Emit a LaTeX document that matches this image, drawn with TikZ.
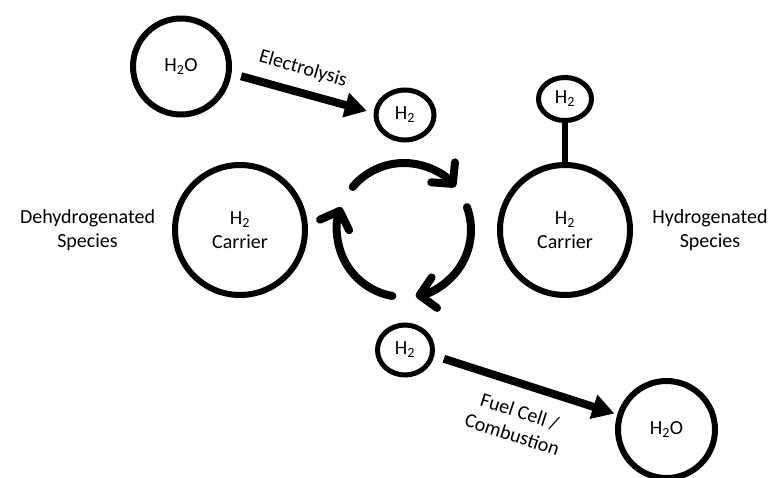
\documentclass[tikz,border=0pt]{standalone}
\usepackage{fontspec}
\setmainfont{Carlito}
\usetikzlibrary{arrows.meta,shapes.geometric,calc}

\tikzset{
  every node/.style={font=\fontsize{20}{24}\selectfont},
  ring/.style={draw, line width=6pt, circle, inner sep=0pt, align=center},
  pill/.style={draw, line width=5pt, ellipse, inner sep=0pt},
  flow/.style={line width=8pt, -{Triangle[length=22pt,width=24pt]}},
  cyc/.style={line width=8pt, line cap=round, -{Straight Barb[round,length=15pt,width=31pt]}},
  stem/.style={line width=6pt},
  lbl/.style={align=center, inner sep=0pt}
}

\begin{document}
\begin{tikzpicture}[x=1pt, y=-1pt]
  \useasboundingbox (0,0) rectangle (773,478);

  % water in, electrolysis
  \node[ring, minimum size=96pt] (wIn) at (181,66.5) {H\textsubscript{2}O};
  \node[pill, minimum width=58pt, minimum height=50pt] (hTop) at (405,115) {H\textsubscript{2}};
  \draw[flow, shorten <=10pt, shorten >=7pt] (wIn.-8) -- (hTop.176);
  \node[lbl, rotate=-16] (lElec) at (303,69) {Electrolysis};

  % carriers
  \node[ring, minimum size=130pt] (carL) at (240,230) {H\textsubscript{2}\\Carrier};
  \node[ring, minimum size=130pt] (carR) at (565,230) {H\textsubscript{2}\\Carrier};
  \node[pill, minimum width=53pt, minimum height=43pt] (hBound) at (565,99) {H\textsubscript{2}};
  \draw[stem] (hBound) -- (carR);

  \node[lbl] (dehyd) at (87.5,230) {Dehydrogenated\\Species};
  \node[lbl] (hyd) at (710,230) {Hydrogenated\\Species};

  % cycle
  \coordinate (cc) at (404,230);
  \draw[cyc] ($(cc)+(-140:67)$) arc[start angle=-140, end angle=-40, radius=67];
  \draw[cyc] ($(cc)+(-20:67)$) arc[start angle=-20, end angle=80, radius=67];
  \draw[cyc] ($(cc)+(100:67)$) arc[start angle=100, end angle=200, radius=67];

  % hydrogen out, fuel cell
  \node[pill, minimum width=55pt, minimum height=50pt] (hBot) at (405,350) {H\textsubscript{2}};
  \node[ring, minimum size=97pt] (wOut) at (666.5,429.5) {H\textsubscript{2}O};
  \draw[flow, shorten <=10pt, shorten >=3pt] (hBot.-11) -- (wOut.163.5);
  \node[lbl, rotate=-18] (lFuel) at (516,423) {Fuel Cell /\\Combustion};
\end{tikzpicture}
\end{document}
